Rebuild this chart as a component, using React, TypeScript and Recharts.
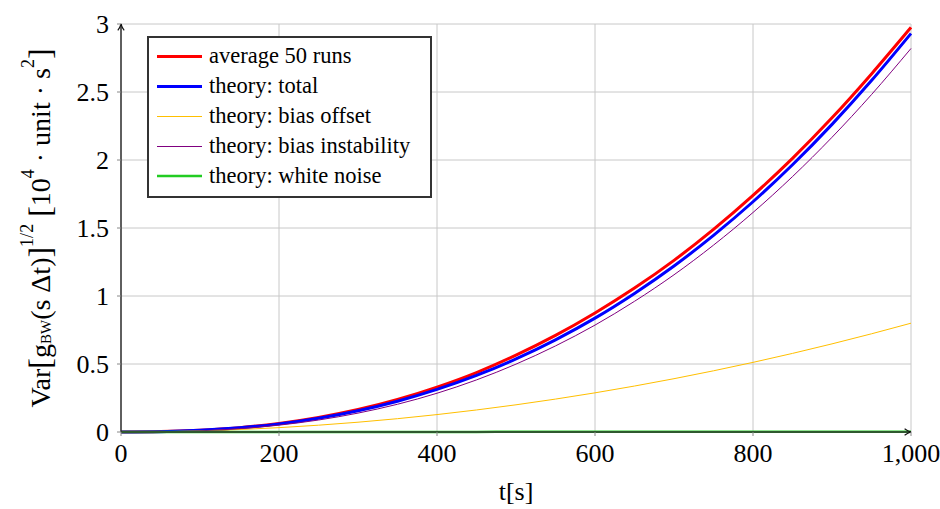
import { LineChart, Line, XAxis, YAxis, CartesianGrid, Legend, Label } from "recharts";

const FONT = "'Liberation Serif', 'DejaVu Serif', serif";

const TIME = [0, 50, 100, 150, 200, 250, 300, 350, 400, 450, 500, 550, 600, 650, 700, 750, 800, 850, 900, 950, 1000];
const AVG_50_RUNS = [0, 0.003, 0.013, 0.032, 0.063, 0.107, 0.165, 0.239, 0.33, 0.437, 0.565, 0.71, 0.875, 1.058, 1.262, 1.49, 1.74, 2.012, 2.31, 2.633, 2.975];
const THEORY_TOTAL = [0, 0.0026, 0.012, 0.0305, 0.0597, 0.1013, 0.1565, 0.2263, 0.313, 0.4159, 0.5376, 0.6777, 0.837, 1.0187, 1.2206, 1.4458, 1.693, 1.965, 2.262, 2.584, 2.93];
const BIAS_OFFSET = [0, 0.002, 0.008, 0.018, 0.032, 0.05, 0.072, 0.098, 0.128, 0.162, 0.2, 0.242, 0.288, 0.338, 0.392, 0.45, 0.512, 0.578, 0.648, 0.722, 0.8];
const BIAS_INSTABILITY = [0, 0.0016, 0.0089, 0.0246, 0.0504, 0.0881, 0.139, 0.204, 0.285, 0.383, 0.499, 0.633, 0.786, 0.961, 1.156, 1.374, 1.614, 1.878, 2.167, 2.481, 2.82];
const WHITE_NOISE = [0, 0.0003, 0.0004, 0.0005, 0.0006, 0.0007, 0.0008, 0.0008, 0.0009, 0.0009, 0.001, 0.001, 0.0011, 0.0011, 0.0012, 0.0012, 0.0013, 0.0013, 0.0013, 0.0014, 0.0014];

const X_TICKS = [0, 200, 400, 600, 800, 1000];
const Y_TICKS = [0, 0.5, 1, 1.5, 2, 2.5, 3];

const SERIES = [
  { key: "avg", name: "average 50 runs", color: "#ff0000", width: 3 },
  { key: "total", name: "theory: total", color: "#0000ff", width: 3 },
  { key: "offset", name: "theory: bias offset", color: "#ffbf00", width: 1 },
  { key: "instab", name: "theory: bias instability", color: "#800080", width: 1 },
  { key: "white", name: "theory: white noise", color: "#22cc22", width: 2.5 },
];

const data = TIME.map((t, i) => ({
  t,
  avg: AVG_50_RUNS[i],
  total: THEORY_TOTAL[i],
  offset: BIAS_OFFSET[i],
  instab: BIAS_INSTABILITY[i],
  white: WHITE_NOISE[i],
}));

const fmtX = (v: number) => v.toLocaleString("en-US");

function YTitle({ viewBox }: any) {
  const cx = 40;
  const cy = viewBox.y + viewBox.height / 2;
  return (
    <text
      x={cx}
      y={cy}
      transform={`rotate(-90 ${cx} ${cy})`}
      textAnchor="middle"
      dominantBaseline="central"
      fontSize={28}
      fontFamily={FONT}
      fill="#000"
    >
      <tspan>Var</tspan>
      <tspan fontSize={32}>[</tspan>
      <tspan>g</tspan>
      <tspan fontSize={15} dy={6}>BW</tspan>
      <tspan dy={-6}>(s Δt)</tspan>
      <tspan fontSize={32}>]</tspan>
      <tspan fontSize={18} dy={-13}>1/2</tspan>
      <tspan dy={13}> </tspan>
      <tspan fontSize={32}>[</tspan>
      <tspan>10</tspan>
      <tspan fontSize={18} dy={-12}>4</tspan>
      <tspan dy={12}> · unit · s</tspan>
      <tspan fontSize={18} dy={-12}>2</tspan>
      <tspan dy={12} fontSize={32}>]</tspan>
    </text>
  );
}

function LegendBox() {
  return (
    <div
      style={{
        border: "2px solid #333",
        background: "#fff",
        padding: "3px 20px 5px 8px",
        fontFamily: FONT,
        fontSize: 22.5,
        lineHeight: "30px",
      }}
    >
      {SERIES.map((s) => {
        const y = s.width % 2 === 1 ? 15.5 : 15;
        return (
          <div key={s.key} style={{ display: "flex", height: 30, whiteSpace: "nowrap" }}>
            <svg width={45} height={30} style={{ marginRight: 7, display: "block", flex: "none" }}>
              <line x1={0} y1={y} x2={45} y2={y} stroke={s.color} strokeWidth={Math.min(s.width, 3)} />
            </svg>
            <span>{s.name}</span>
          </div>
        );
      })}
    </div>
  );
}

export default function App() {
  return (
    <div style={{ position: "absolute", left: 0, top: 0, width: 940, height: 509, background: "#fff" }}>
      <LineChart width={940} height={509} data={data} margin={{ top: 24, right: 29, bottom: 47, left: 61 }}>
        <defs>
          <marker
            id="axisArrow"
            viewBox="0 0 10 10"
            refX="9"
            refY="5"
            markerWidth="8"
            markerHeight="8"
            markerUnits="userSpaceOnUse"
            orient="auto-start-reverse"
          >
            <path d="M1,1 Q5,4 9,5 Q5,6 1,9" fill="none" stroke="#111" strokeWidth={1.4} />
          </marker>
        </defs>
        <CartesianGrid stroke="#c8c8c8" strokeWidth={1} />
        <XAxis
          dataKey="t"
          type="number"
          domain={[0, 1000]}
          ticks={X_TICKS}
          tickFormatter={fmtX}
          height={30}
          tickSize={4}
          tickMargin={8}
          tickLine={{ stroke: "#888" }}
          axisLine={{ stroke: "#333", strokeWidth: 1.5, markerEnd: "url(#axisArrow)" }}
          tick={{ fill: "#000", fontSize: 26, fontFamily: FONT }}
          interval={0}
        >
          <Label value="t[s]" position="bottom" offset={20} style={{ fill: "#000", fontSize: 26, fontFamily: FONT }} />
        </XAxis>
        <YAxis
          type="number"
          domain={[0, 3]}
          ticks={Y_TICKS}
          width={60}
          tickSize={4}
          tickMargin={8}
          tickLine={{ stroke: "#888" }}
          axisLine={{ stroke: "#333", strokeWidth: 1.5, markerStart: "url(#axisArrow)" }}
          tick={{ fill: "#000", fontSize: 26, fontFamily: FONT }}
          interval={0}
        >
          <Label content={<YTitle />} />
        </YAxis>
        {SERIES.map((s) => (
          <Line
            key={s.key}
            type="monotone"
            dataKey={s.key}
            name={s.name}
            stroke={s.color}
            strokeWidth={s.width}
            dot={false}
            activeDot={false}
            isAnimationActive={false}
          />
        ))}
        <Legend
          layout="vertical"
          align="center"
          verticalAlign="middle"
          content={<LegendBox />}
          wrapperStyle={{ left: 147, top: 36, width: "auto" }}
        />
      </LineChart>
    </div>
  );
}
